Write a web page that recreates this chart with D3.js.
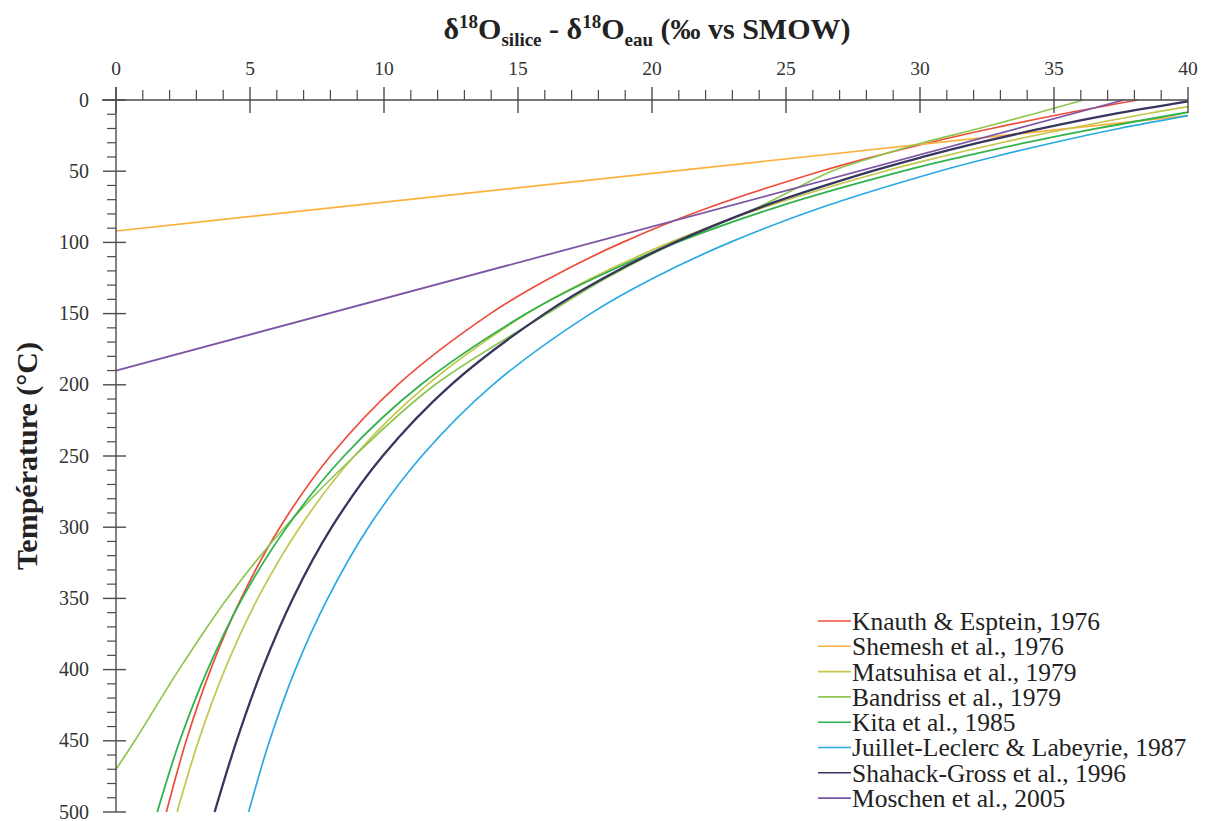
<!DOCTYPE html>
<html>
<head>
<meta charset="utf-8">
<script src="https://cdn.jsdelivr.net/npm/d3@7"></script>
<style>
  html, body { margin: 0; padding: 0; background: #fff; }
  svg { display: block; }
</style>
</head>
<body>
<svg id="chart" width="1206" height="821"></svg>
<script>
// ---------- DATA ----------
const xTicks = [0, 5, 10, 15, 20, 25, 30, 35, 40];
const yTicks = [0, 50, 100, 150, 200, 250, 300, 350, 400, 450, 500];

const seriesNames = [
  "Knauth & Esptein, 1976",
  "Shemesh et al., 1976",
  "Matsuhisa et al., 1979",
  "Bandriss et al., 1979",
  "Kita et al., 1985",
  "Juillet-Leclerc & Labeyrie, 1987",
  "Shahack-Gross et al., 1996",
  "Moschen et al., 2005"
];

// each point: [delta18O (silice - eau), temperature °C]
const knauth = [[38.12,0],[35.25,10],[32.67,20],[30.33,30],[28.22,40],[26.30,50],[22.20,75],[18.90,100],[16.20,125],[13.97,150],[10.51,200],[8.00,250],[6.12,300],[4.67,350],[3.53,400],[2.62,450],[1.88,500]];
const shemesh = [[0,92],[40,11]];
const matsuhisa = [[40,4.6],[38.35,10],[35.56,20],[33.03,30],[30.75,40],[28.67,50],[24.25,75],[20.68,100],[17.76,125],[15.34,150],[11.61,200],[8.89,250],[6.86,300],[5.29,350],[4.06,400],[3.08,450],[2.28,500]];
const bandriss = [[36.1,0],[34.2,10],[32.2,20],[30.1,30],[28.3,40],[26.7,50],[24.0,75],[20.9,100],[18.3,125],[16.1,150],[11.9,200],[8.9,250],[6.3,300],[4.15,350],[2.35,400],[0.7,450],[0,470]];
const kita = [[40,8.6],[36.61,20],[33.95,30],[31.55,40],[29.36,50],[24.69,75],[20.93,100],[17.86,125],[15.31,150],[11.37,200],[8.51,250],[6.37,300],[4.71,350],[3.42,400],[2.38,450],[1.54,500]];
const juillet = [[40,11],[37.43,20],[34.97,30],[32.74,40],[30.72,50],[26.40,75],[22.91,100],[20.06,125],[17.71,150],[14.06,200],[11.41,250],[9.42,300],[7.90,350],[6.69,400],[5.73,450],[4.95,500]];
const shahack = [[40,1],[37.2,10],[34.55,20],[32.2,30],[30.1,40],[28.2,50],[24.1,75],[20.85,100],[18.2,125],[16.0,150],[12.5,200],[9.95,250],[8.05,300],[6.6,350],[5.45,400],[4.5,450],[3.68,500]];
const moschen = [[0,190],[37.6,0]];

const seriesData = [knauth, shemesh, matsuhisa, bandriss, kita, juillet, shahack, moschen];

// ---------- STYLE ----------
const colors = ["#ee4d3a", "#fbb03b", "#c3c64a", "#8dc653", "#2fb24c", "#2aaae2", "#37365f", "#7d55a5"];
const widths = [1.7, 1.7, 1.7, 1.7, 1.8, 1.7, 2.3, 1.8];
const serif = "'Liberation Serif', 'Times New Roman', serif";
const axisColor = "#4a4a4a";

const svg = d3.select("#chart");
const x = d3.scaleLinear().domain([0, 40]).range([116, 1188]);
const y = d3.scaleLinear().domain([0, 500]).range([100, 812]);

// ---------- CURVES ----------
const line = d3.line()
  .x(d => x(d[0]))
  .y(d => y(d[1]))
  .curve(d3.curveCatmullRom.alpha(0.5));

svg.append("g").selectAll("path")
  .data(seriesData)
  .join("path")
  .attr("d", d => line(d))
  .attr("fill", "none")
  .attr("stroke", (d, i) => colors[i])
  .attr("stroke-width", (d, i) => widths[i]);

// ---------- TOP AXIS ----------
const gx = svg.append("g");
gx.append("line")
  .attr("x1", 102).attr("x2", x(40))
  .attr("y1", y(0)).attr("y2", y(0))
  .attr("stroke", axisColor).attr("stroke-width", 1.4);
const xMinor = d3.range(0, 41, 1).filter(v => v % 5 !== 0);
gx.selectAll("line.minor").data(xMinor).join("line")
  .attr("class", "minor")
  .attr("x1", d => x(d)).attr("x2", d => x(d))
  .attr("y1", y(0) - 10).attr("y2", y(0))
  .attr("stroke", axisColor).attr("stroke-width", 1.2);
gx.selectAll("line.major").data(xTicks).join("line")
  .attr("class", "major")
  .attr("x1", d => x(d)).attr("x2", d => x(d))
  .attr("y1", y(0) - 13).attr("y2", y(0) + 13)
  .attr("stroke", axisColor).attr("stroke-width", 1.4);
gx.selectAll("text").data(xTicks).join("text")
  .attr("x", d => x(d)).attr("y", 75)
  .attr("text-anchor", "middle")
  .attr("font-family", serif).attr("font-size", 19.5)
  .attr("fill", "#333")
  .text(d => d);

// ---------- LEFT AXIS ----------
const gy = svg.append("g");
gy.append("line")
  .attr("x1", x(0)).attr("x2", x(0))
  .attr("y1", 87).attr("y2", y(500))
  .attr("stroke", axisColor).attr("stroke-width", 1.4);
const yMinor = d3.range(0, 501, 10).filter(v => v % 50 !== 0);
gy.selectAll("line.minor").data(yMinor).join("line")
  .attr("class", "minor")
  .attr("x1", x(0) - 9).attr("x2", x(0))
  .attr("y1", d => y(d)).attr("y2", d => y(d))
  .attr("stroke", axisColor).attr("stroke-width", 1.2);
gy.selectAll("line.major").data(yTicks).join("line")
  .attr("class", "major")
  .attr("x1", x(0) - 13).attr("x2", x(0) + 10)
  .attr("y1", d => y(d)).attr("y2", d => y(d))
  .attr("stroke", axisColor).attr("stroke-width", 1.4);
gy.selectAll("text").data(yTicks).join("text")
  .attr("x", 89).attr("y", d => y(d))
  .attr("dy", "0.33em")
  .attr("text-anchor", "end")
  .attr("font-family", serif).attr("font-size", 20)
  .attr("fill", "#333")
  .text(d => d);

// ---------- TITLES ----------
const title = svg.append("text")
  .attr("x", 647).attr("y", 39)
  .attr("text-anchor", "middle")
  .attr("font-family", serif).attr("font-weight", "bold")
  .attr("font-size", 30).attr("fill", "#222");
title.append("tspan").text("δ");
title.append("tspan").attr("font-size", 19).attr("dy", -11).text("18");
title.append("tspan").attr("dy", 11).text("O");
title.append("tspan").attr("font-size", 19).attr("dy", 7).text("silice");
title.append("tspan").attr("dy", -7).text(" - δ");
title.append("tspan").attr("font-size", 19).attr("dy", -11).text("18");
title.append("tspan").attr("dy", 11).text("O");
title.append("tspan").attr("font-size", 19).attr("dy", 7).text("eau");
title.append("tspan").attr("dy", -7).text(" (‰ vs SMOW)");

svg.append("text")
  .attr("transform", "translate(37,456) rotate(-90)")
  .attr("text-anchor", "middle")
  .attr("font-family", serif).attr("font-weight", "bold")
  .attr("font-size", 30).attr("fill", "#222")
  .text("Température (°C)");

// ---------- LEGEND ----------
const legend = svg.append("g");
const rowH = 25.3, top0 = 621;
const rows = legend.selectAll("g").data(seriesNames).join("g")
  .attr("transform", (d, i) => `translate(0,${top0 + i * rowH})`);
rows.append("line")
  .attr("x1", 818).attr("x2", 851).attr("y1", 0).attr("y2", 0)
  .attr("stroke", (d, i) => colors[i]).attr("stroke-width", 1.6);
rows.append("text")
  .attr("x", 852).attr("y", 0).attr("dy", "0.35em")
  .attr("font-family", serif).attr("font-size", 25.5)
  .attr("fill", "#222")
  .text(d => d);
</script>
</body>
</html>
